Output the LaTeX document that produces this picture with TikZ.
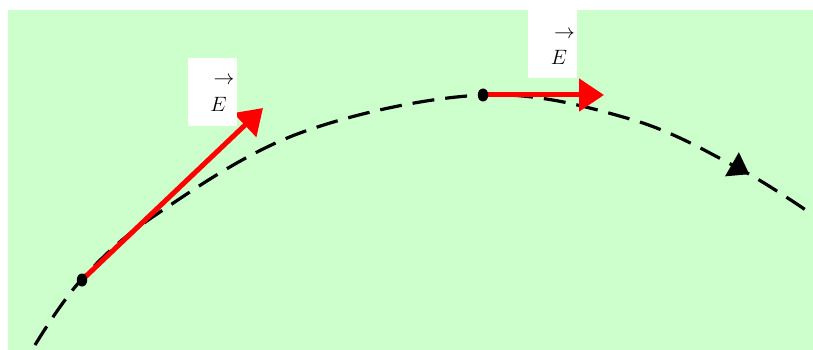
\documentclass[tikz,border=0pt]{standalone}
\usetikzlibrary{arrows.meta,decorations.markings,shapes.geometric}
\definecolor{bggreen}{HTML}{CCFFCC}
\newcommand{\fieldE}{\hspace{13pt}$E$\rlap{\hspace{-13pt}\raisebox{26pt}{$\rightarrow$}}}
\begin{document}
\begin{tikzpicture}[x=1pt,y=-1pt,
  fieldarrow/.style={draw=red,line width=5pt,-{Triangle[length=25pt,width=32pt]}},
  chargedot/.style={ellipse,fill=black,inner sep=0pt,minimum width=10.5pt,minimum height=13pt},
  labelbox/.style={fill=white,inner sep=0pt,minimum width=49pt,minimum height=68pt,font=\fontsize{22}{26}\selectfont,text height=53pt,text depth=15pt},
  pathline/.style={line width=3.2pt,dash pattern=on 22pt off 11pt,
    postaction={decorate,decoration={markings,mark=at position 0.915 with {\arrow{Triangle[length=20pt,width=27pt]}}}}}]
\useasboundingbox (0,0) rectangle (813,350);
\fill[bggreen] (8,10) rectangle (813,350);
\begin{scope}
\clip (8,10) rectangle (813,350);
\draw[pathline] plot[smooth,tension=0.6] coordinates {(35,345) (82,279) (157,214) (300,133) (483,95) (630,119) (738,168) (813,215)};
\end{scope}
\coordinate (c1) at (82,280);
\coordinate (c2) at (483,95);
\coordinate (t1) at (263,108);
\coordinate (t2) at (604,95);
\draw[fieldarrow] (c1) -- (t1);
\draw[fieldarrow] (c2) -- (t2);
\node[chargedot] (p1) at (c1) {};
\node[chargedot] (p2) at (c2) {};
\node[labelbox] (e1) at (212,92) {\fieldE};
\node[labelbox,text height=55pt,text depth=13pt] (e2) at (552.5,44) {\fieldE};
\end{tikzpicture}
\end{document}
